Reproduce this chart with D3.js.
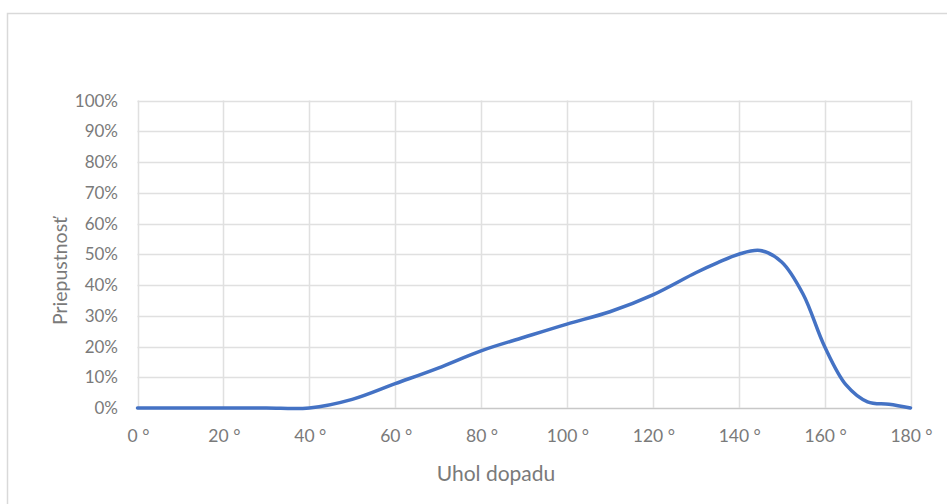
<!DOCTYPE html>
<html>
<head>
<meta charset="utf-8">
<script src="https://cdn.jsdelivr.net/npm/d3@7"></script>
<style>
  body { margin: 0; background: #fff; }
  text { font-family: Lato, "Open Sans", sans-serif; fill: #7a7a7a; }
</style>
</head>
<body>
<script>
// angle of incidence (deg) and transmittance (%)
var angles = [0, 10, 20, 30, 40, 50, 60, 70, 80, 90, 100, 110, 120, 130, 135, 140, 145, 150, 155, 160, 165, 170, 175, 180];
var transmit = [0, 0, 0, 0, 0, 2.8, 7.9, 13, 18.6, 23, 27.3, 31.3, 36.8, 44, 47.2, 50, 51.2, 47.5, 37, 20, 7.5, 2, 1.2, 0];
var xTicks = [0, 20, 40, 60, 80, 100, 120, 140, 160, 180];
var yTicks = [0, 10, 20, 30, 40, 50, 60, 70, 80, 90, 100];
var xTitle = 'Uhol dopadu';
var yTitle = 'Priepustnosť';

var W = 947, H = 504;
var svg = d3.select('body').append('svg')
  .attr('width', W)
  .attr('height', H);

// chart frame
svg.append('rect')
  .attr('x', 7.5).attr('y', 13.5)
  .attr('width', 960).attr('height', 520)
  .attr('fill', 'none')
  .attr('stroke', '#d9d9d9')
  .attr('stroke-width', 1.5);

var x = d3.scaleLinear().domain([0, 180]).range([137.5, 910.5]);
var y = d3.scaleLinear().domain([0, 100]).range([408, 100.5]);

var g = svg.append('g');

// grid
g.selectAll('.hgrid').data(yTicks).enter().append('line')
  .attr('x1', x(0)).attr('x2', x(180))
  .attr('y1', function(d) { return Math.round(y(d)) + 0.5; })
  .attr('y2', function(d) { return Math.round(y(d)) + 0.5; })
  .attr('stroke', function(d) { return d === 0 ? '#c8c8c8' : '#e0e0e0'; })
  .attr('stroke-width', 1.5);
g.selectAll('.vgrid').data(xTicks).enter().append('line')
  .attr('y1', y(0)).attr('y2', y(100))
  .attr('x1', function(d) { return Math.round(x(d)) + 0.5; })
  .attr('x2', function(d) { return Math.round(x(d)) + 0.5; })
  .attr('stroke', '#e0e0e0')
  .attr('stroke-width', 1.5);

// tick labels
g.selectAll('.ylab').data(yTicks).enter().append('text')
  .attr('x', 118)
  .attr('y', function(d) { return y(d); })
  .attr('dy', '0.36em')
  .attr('text-anchor', 'end')
  .style('font-size', '17px')
  .text(function(d) { return d + '%'; });
g.selectAll('.xlab').data(xTicks).enter().append('text')
  .attr('x', function(d) { return x(d) + 1; })
  .attr('y', 436)
  .attr('dy', '0.36em')
  .attr('text-anchor', 'middle')
  .style('font-size', '17.5px')
  .text(function(d) { return d + ' °'; });

// axis titles
svg.append('text')
  .attr('x', 496).attr('y', 473)
  .attr('dy', '0.36em')
  .attr('text-anchor', 'middle')
  .style('font-size', '21px')
  .text(xTitle);
svg.append('text')
  .attr('transform', 'translate(60,271) rotate(-90)')
  .attr('dy', '0.36em')
  .attr('text-anchor', 'middle')
  .style('font-size', '19.5px')
  .text(yTitle);

// smoothed line
var line = d3.line()
  .curve(d3.curveCatmullRom)
  .x(function(d, i) { return x(angles[i]); })
  .y(function(d) { return y(d); });
g.append('path')
  .datum(transmit)
  .attr('d', line)
  .attr('fill', 'none')
  .attr('stroke', '#4472c4')
  .attr('stroke-width', 3.5)
  .attr('stroke-linecap', 'round');
</script>
</body>
</html>
